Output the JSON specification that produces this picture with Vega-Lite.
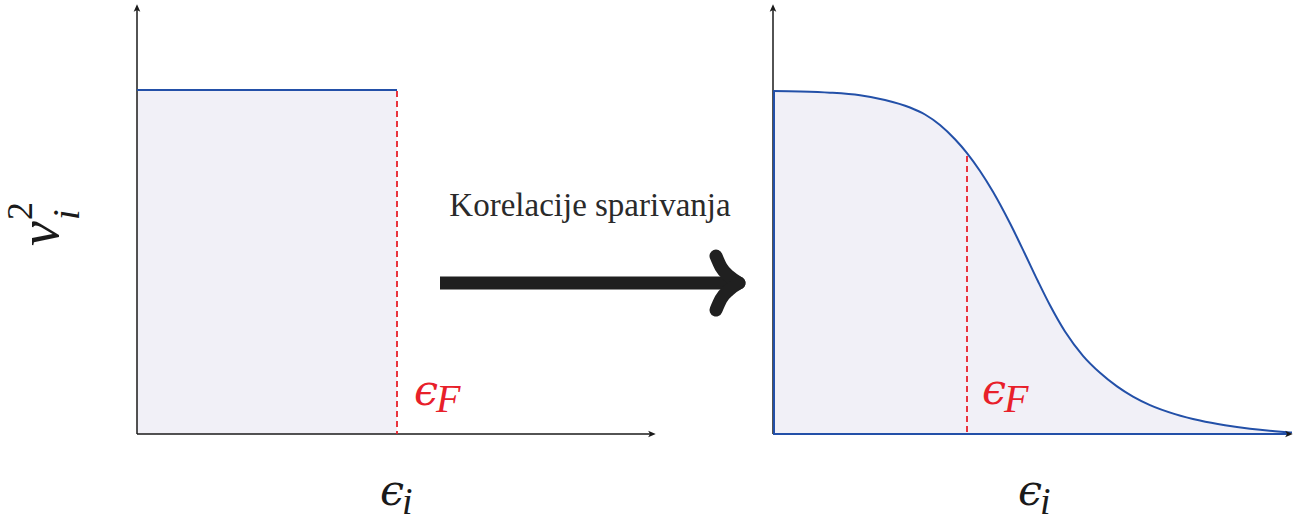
{
  "$schema": "https://vega.github.io/schema/vega-lite/v6.json",
  "width": 1311,
  "height": 524,
  "padding": 0,
  "autosize": {"type": "fit", "contains": "padding"},
  "background": "white",
  "config": {"view": {"stroke": null}},
  "encoding": {
    "x": {"field": "x", "type": "quantitative", "scale": {"domain": [0, 1311], "nice": false, "zero": false}, "axis": null},
    "y": {"field": "y", "type": "quantitative", "scale": {"domain": [0, 524], "nice": false, "zero": false, "reverse": true}, "axis": null}
  },
  "layer": [
    {
      "data": {"values": [{"x": 137, "x2": 397, "y": 90, "y2": 434}]},
      "mark": {"type": "rect", "fill": "#f1f0f7"},
      "encoding": {"x2": {"field": "x2"}, "y2": {"field": "y2"}}
    },
    {
      "data": {"name": "curve", "values": [
        {"x": 773, "y": 91}, {"x": 800, "y": 91.5}, {"x": 830, "y": 92.7}, {"x": 860, "y": 95.3},
        {"x": 885, "y": 100}, {"x": 910, "y": 107.5}, {"x": 925, "y": 114.5}, {"x": 940, "y": 125},
        {"x": 955, "y": 139.3}, {"x": 967, "y": 153.1}, {"x": 980, "y": 171}, {"x": 993, "y": 191.8},
        {"x": 1010, "y": 223.3}, {"x": 1025, "y": 254}, {"x": 1038, "y": 281.3}, {"x": 1050, "y": 305.3},
        {"x": 1065, "y": 331.5}, {"x": 1083, "y": 355.8}, {"x": 1100, "y": 372.8}, {"x": 1117, "y": 386.4},
        {"x": 1133, "y": 396.6}, {"x": 1150, "y": 405.1}, {"x": 1175, "y": 414.1}, {"x": 1200, "y": 420.6},
        {"x": 1225, "y": 425.3}, {"x": 1250, "y": 428.8}, {"x": 1275, "y": 431.3}, {"x": 1292, "y": 432.6}
      ]},
      "mark": {"type": "area", "fill": "#f1f0f7", "interpolate": "monotone"},
      "encoding": {"y2": {"datum": 434}}
    },
    {
      "data": {"values": [
        {"x": 137, "y": 434, "x2": 137, "y2": 9},
        {"x": 137, "y": 434, "x2": 651, "y2": 434},
        {"x": 773, "y": 434, "x2": 773, "y2": 9}
      ]},
      "mark": {"type": "rule", "color": "#1a1a1a", "strokeWidth": 1.5},
      "encoding": {"x2": {"field": "x2"}, "y2": {"field": "y2"}}
    },
    {
      "data": {"values": [
        {"x": 137, "y": 90, "x2": 397, "y2": 90},
        {"x": 774, "y": 91, "x2": 774, "y2": 434},
        {"x": 773, "y": 434, "x2": 1288, "y2": 434}
      ]},
      "mark": {"type": "rule", "color": "#2350a8", "strokeWidth": 2},
      "encoding": {"x2": {"field": "x2"}, "y2": {"field": "y2"}}
    },
    {
      "data": {"name": "curve"},
      "mark": {"type": "line", "color": "#2350a8", "strokeWidth": 2, "interpolate": "monotone"}
    },
    {
      "data": {"values": [
        {"x": 397, "y": 91, "x2": 397, "y2": 434},
        {"x": 967, "y": 156, "x2": 967, "y2": 434}
      ]},
      "mark": {"type": "rule", "color": "#e8202a", "strokeWidth": 1.8, "strokeDash": [6, 4]},
      "encoding": {"x2": {"field": "x2"}, "y2": {"field": "y2"}}
    },
    {
      "data": {"values": [{"x": 137, "y": 9}, {"x": 773, "y": 9}]},
      "mark": {"type": "point", "shape": "M0,-1 L0.7,0.6 L0,0.2 L-0.7,0.6 Z", "size": 90, "filled": true, "color": "#1a1a1a", "opacity": 1}
    },
    {
      "data": {"values": [{"x": 651, "y": 434}, {"x": 1288, "y": 434}]},
      "mark": {"type": "point", "shape": "M1,0 L-0.6,0.7 L-0.2,0 L-0.6,-0.7 Z", "size": 90, "filled": true, "color": "#1a1a1a", "opacity": 1}
    },
    {
      "data": {"values": [{"x": 414, "y": 405}, {"x": 982, "y": 404}]},
      "mark": {"type": "text", "text": "ϵ", "font": "DejaVu Serif", "fontStyle": "italic", "fontSize": 43, "color": "#e8202a", "align": "left", "baseline": "alphabetic"}
    },
    {
      "data": {"values": [{"x": 436, "y": 412}, {"x": 1004, "y": 412}]},
      "mark": {"type": "text", "text": "F", "font": "Liberation Serif", "fontStyle": "italic", "fontSize": 40, "color": "#e8202a", "align": "left", "baseline": "alphabetic"}
    },
    {
      "data": {"values": [{"x": 380, "y": 505}, {"x": 1018, "y": 505}]},
      "mark": {"type": "text", "text": "ϵ", "font": "DejaVu Serif", "fontStyle": "italic", "fontSize": 43, "color": "#1a1a1a", "align": "left", "baseline": "alphabetic"}
    },
    {
      "data": {"values": [{"x": 402, "y": 514}, {"x": 1040, "y": 514}]},
      "mark": {"type": "text", "text": "i", "font": "Liberation Serif", "fontStyle": "italic", "fontSize": 38, "color": "#1a1a1a", "align": "left", "baseline": "alphabetic"}
    },
    {
      "data": {"values": [{"x": 58, "y": 246}]},
      "mark": {"type": "text", "text": "v", "font": "Liberation Serif", "fontStyle": "italic", "fontSize": 56, "angle": 270, "color": "#1a1a1a", "align": "left", "baseline": "alphabetic"}
    },
    {
      "data": {"values": [{"x": 32, "y": 220}]},
      "mark": {"type": "text", "text": "2", "font": "Liberation Serif", "fontSize": 36, "angle": 270, "color": "#1a1a1a", "align": "left", "baseline": "alphabetic"}
    },
    {
      "data": {"values": [{"x": 79, "y": 220}]},
      "mark": {"type": "text", "text": "i", "font": "Liberation Serif", "fontStyle": "italic", "fontSize": 38, "angle": 270, "color": "#1a1a1a", "align": "left", "baseline": "alphabetic"}
    },
    {
      "data": {"values": [{"x": 590, "y": 216, "label": "Korelacije sparivanja"}]},
      "mark": {"type": "text", "font": "Liberation Serif", "fontSize": 33, "color": "#2a2a2a", "align": "center", "baseline": "alphabetic"},
      "encoding": {"text": {"field": "label"}}
    },
    {
      "data": {"values": [{"x": 440, "y": 283, "x2": 728, "y2": 283}]},
      "mark": {"type": "rule", "color": "#202020", "strokeWidth": 13},
      "encoding": {"x2": {"field": "x2"}, "y2": {"field": "y2"}}
    },
    {
      "data": {"values": [
        {"hook": "up", "x": 716, "y": 256}, {"hook": "up", "x": 721, "y": 267}, {"hook": "up", "x": 729, "y": 276}, {"hook": "up", "x": 739, "y": 283},
        {"hook": "down", "x": 716, "y": 310}, {"hook": "down", "x": 721, "y": 299}, {"hook": "down", "x": 729, "y": 290}, {"hook": "down", "x": 739, "y": 283}
      ]},
      "mark": {"type": "line", "color": "#202020", "strokeWidth": 13, "strokeCap": "round", "strokeJoin": "round", "interpolate": "monotone"},
      "encoding": {"detail": {"field": "hook"}}
    }
  ]
}
